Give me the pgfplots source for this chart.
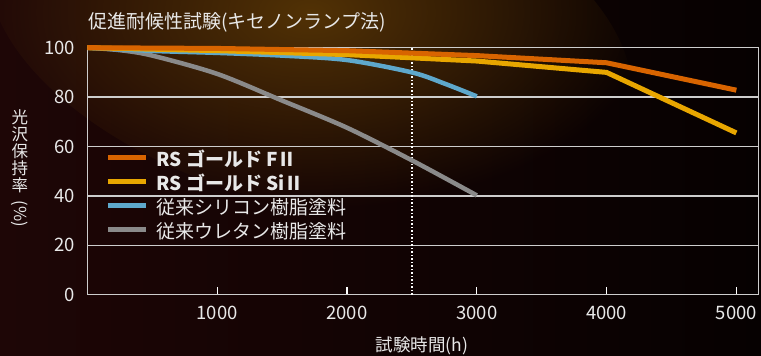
\documentclass[border=0pt]{standalone}
\usepackage{pgfplots}
\pgfplotsset{compat=1.18}
\usepackage{fontspec}
\setmainfont{Noto Sans CJK JP}
\usetikzlibrary{fadings}

\definecolor{bgL}{RGB}{30,6,6}
\definecolor{bgR}{RGB}{6,1,1}
\definecolor{glow}{RGB}{82,50,6}
\definecolor{fOrange}{RGB}{216,100,0}
\definecolor{sYellow}{RGB}{232,166,0}
\definecolor{cBlue}{RGB}{94,168,204}
\definecolor{uGray}{RGB}{138,138,138}
\definecolor{gridc}{RGB}{205,205,205}
\definecolor{txt}{RGB}{232,232,232}

\tikzfading[name=glowfade, inner color=transparent!0, outer color=transparent!100]

\begin{document}
\begin{tikzpicture}
% dark backdrop with a warm glow at the top
\shade[left color=bgL, right color=bgR] (0pt,0pt) rectangle (761pt,356pt);
\path[use as bounding box] (0pt,0pt) rectangle (761pt,356pt);
\fill[glow, path fading=glowfade, rotate around={-15:(310pt,325pt)}]
  (310pt,325pt) ellipse [x radius=330pt, y radius=175pt];

% titles and labels
\node[anchor=west, txt, font=\fontsize{19}{19}\selectfont] at (85pt,334pt) {促進耐候性試験(キセノンランプ法)};
\node[txt, font=\fontsize{17.5}{17.5}\selectfont] at (422pt,10pt) {試験時間(h)};
\begin{scope}[every node/.style={txt, font=\fontsize{16.5}{16.5}\selectfont}]
\node at (20pt,239pt) {光};
\node at (20pt,222pt) {沢};
\node at (20pt,205pt) {保};
\node at (20pt,188pt) {持};
\node at (20pt,171pt) {率};
\node[rotate=-90] at (20pt,142pt) {(\%)};
\end{scope}

\begin{axis}[
  at={(87.4pt,61.3pt)}, anchor=south west,
  scale only axis, width=670.9pt, height=247pt,
  xmin=0, xmax=5169, ymin=0, ymax=100,
  clip=false,
  axis line style={gridc, line width=1.3pt},
  xtick={1000,2000,3000,4000,5000},
  ytick={0,20,40,60,80,100},
  xtick pos=bottom,
  tick align=inside,
  major tick length=8pt,
  x tick style={white, line width=1.3pt},
  y tick style={draw=none},
  ymajorgrids,
  grid style={gridc, line width=1.3pt},
  /pgf/number format/assume math mode=true,
  /pgf/number format/1000 sep={},
  tick label style={txt, font=\fontsize{18.5}{18.5}\selectfont},
  xticklabel style={anchor=base, yshift=-24.6pt},
  yticklabel style={anchor=east, xshift=-9pt},
  reverse legend,
  legend cell align=left,
  legend style={
    at={(0.022,0.582)}, anchor=north west,
    draw=none, fill=none, text=txt,
    font=\fontsize{19}{19}\selectfont,
    nodes={inner sep=0pt, text height=13pt, text depth=4pt},
    row sep=7pt,
    /tikz/every odd column/.append style={column sep=8pt},
  },
  legend image code/.code={\draw[#1, line width=5pt] (0pt,4pt) -- (38pt,4pt);},
]
% inspection point at 2500 h
\addplot[white, line width=1.3pt, dash pattern=on 1.5pt off 2pt, forget plot]
  coordinates {(2500,0) (2500,100)};

\addplot[uGray, line width=4.5pt, smooth] coordinates {
  (0,100) (250,99) (500,96.8) (1000,89.4) (1500,78.6) (2000,67.6) (2500,54.4) (3000,40.2)};
\addlegendentry{従来ウレタン樹脂塗料}

\addplot[cBlue, line width=4.5pt, smooth] coordinates {
  (0,100) (500,98.7) (1000,97.9) (1500,96.8) (2000,95) (2500,90) (2750,85.5) (3000,80.3)};
\addlegendentry{従来シリコン樹脂塗料}

\addplot[sYellow, line width=5pt] coordinates {
  (0,100) (1000,98.8) (2000,97.2) (3000,94.6) (4000,90) (5000,65.5)};
\addlegendentry{\textbf{RS ゴールド SiⅡ}}

\addplot[fOrange, line width=5pt] coordinates {
  (0,100) (1000,99.7) (2000,98.8) (3000,96.8) (4000,93.9) (5000,82.8)};
\addlegendentry{\textbf{RS ゴールド FⅡ}}
\end{axis}
\end{tikzpicture}
\end{document}
